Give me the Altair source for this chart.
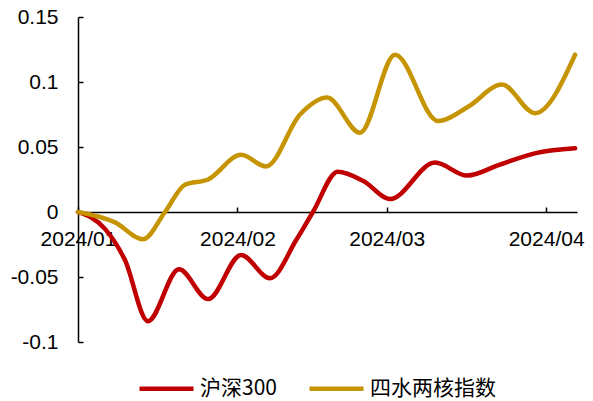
import altair as alt
import pandas as pd

# ---- data ----
series_names = ["沪深300", "四水两核指数"]
series_colors = ["#C00000", "#C59400"]

hs300_dates = [
    "2024-01-01T00:00:00Z", "2024-01-06T06:00:00Z", "2024-01-10T03:00:00Z",
    "2024-01-14T14:00:00Z", "2024-01-20T15:00:00Z", "2024-01-26T07:00:00Z",
    "2024-02-01T17:00:00Z", "2024-02-07T07:00:00Z", "2024-02-12T12:00:00Z",
    "2024-02-15T16:00:00Z", "2024-02-20T12:00:00Z", "2024-02-25T10:00:00Z",
    "2024-03-01T16:00:00Z", "2024-03-10T10:00:00Z", "2024-03-16T15:00:00Z",
    "2024-03-23T00:00:00Z", "2024-03-30T05:00:00Z", "2024-04-06T15:00:00Z",
]
hs300_values = [
    0.0, -0.013, -0.037, -0.084, -0.044, -0.067, -0.033, -0.051, -0.021,
    0.0, 0.031, 0.024, 0.010, 0.038, 0.028, 0.0365, 0.0455, 0.049,
]

index_dates = [
    "2024-01-01T00:00:00Z", "2024-01-08T05:00:00Z", "2024-01-13T15:00:00Z",
    "2024-01-17T22:00:00Z", "2024-01-21T19:00:00Z", "2024-01-26T07:00:00Z",
    "2024-02-01T17:00:00Z", "2024-02-06T13:00:00Z", "2024-02-13T04:00:00Z",
    "2024-02-18T10:00:00Z", "2024-02-24T20:00:00Z", "2024-03-02T15:00:00Z",
    "2024-03-11T00:00:00Z", "2024-03-16T20:00:00Z", "2024-03-23T10:00:00Z",
    "2024-03-29T20:00:00Z", "2024-04-06T15:00:00Z",
]
index_values = [
    0.0, -0.008, -0.021, 0.0, 0.021, 0.025, 0.044, 0.035, 0.075,
    0.088, 0.061, 0.121, 0.070, 0.081, 0.098, 0.076, 0.121,
]

y_ticks = [-0.1, -0.05, 0, 0.05, 0.1, 0.15]
x_tick_dates = [(2024, 1), (2024, 2), (2024, 3), (2024, 4)]

# ---- build table ----
df = pd.concat([
    pd.DataFrame({"date": hs300_dates, "value": hs300_values, "series": series_names[0]}),
    pd.DataFrame({"date": index_dates, "value": index_values, "series": series_names[1]}),
], ignore_index=True)

W, H = 499, 325
y_min, y_max = -0.1, 0.15
zero_offset = -H * y_max / (y_max - y_min)

font = "Liberation Sans"

x_axis = alt.Axis(
    orient="top", offset=zero_offset,
    values=[alt.DateTime(year=y, month=m, date=1, utc=True) for y, m in x_tick_dates],
    format="%Y/%m", grid=False,
    domainColor="#000000", domainWidth=1.5, tickColor="#000000", tickWidth=1.5, tickSize=5,
    labelFont=font, labelFontSize=21, labelColor="#000000", labelBaseline="top",
    labelPadding=-21, labelFlush=False, labelOverlap=False, labelAlign="center", title=None,
)
y_axis = alt.Axis(
    orient="right", offset=-W, values=y_ticks, labelExpr="'' + datum.value", grid=False,
    domainColor="#000000", domainWidth=1.5, tickColor="#000000", tickWidth=1.5, tickSize=5,
    labelFont=font, labelFontSize=21, labelColor="#000000", labelAlign="right",
    labelPadding=-25, labelBaseline="middle", labelFlush=False, labelOverlap=False, title=None,
)

legend = alt.Legend(
    orient="none", legendX=59, legendY=342, direction="horizontal",
    title=None, symbolType="stroke", symbolSize=2916, symbolStrokeWidth=4.5,
    labelFont="Noto Sans CJK SC", labelFontSize=21, labelColor="#000000",
    labelOffset=4, columnPadding=23, padding=0,
)

chart = alt.Chart(df).mark_line(strokeWidth=4.5, interpolate="monotone", strokeCap="round").encode(
    x=alt.X("date:T", scale=alt.Scale(type="utc",
            domain=[alt.DateTime(year=2024, month=1, date=1, utc=True),
                    alt.DateTime(year=2024, month=4, date=7, utc=True)]), axis=x_axis),
    y=alt.Y("value:Q", scale=alt.Scale(domain=[y_min, y_max], nice=False, zero=False), axis=y_axis),
    color=alt.Color("series:N", sort=series_names,
                    scale=alt.Scale(domain=series_names, range=series_colors),
                    legend=legend),
    order=alt.Order("date:T"),
).properties(
    width=W, height=H,
    autosize=alt.AutoSizeParams(type="none"),
    padding={"left": 78, "top": 17, "right": 16, "bottom": 59},
).configure_view(stroke=None).configure_legend(symbolStrokeWidth=4.5)

chart.save("out.html", embed_options={"renderer": "svg", "actions": False})
